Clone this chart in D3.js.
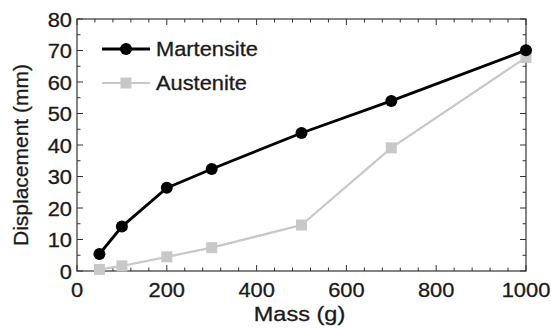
<!DOCTYPE html>
<html>
<head>
<meta charset="utf-8">
<script src="https://cdn.jsdelivr.net/npm/d3@7"></script>
<style>
  body { margin: 0; background: #fff; }
  text { font-family: "Liberation Sans", Arial, sans-serif; fill: #1a1a1a; stroke: #1a1a1a; stroke-width: 0.3; }
</style>
</head>
<body>
<div id="chart"></div>
<script>
// Sample data
const mass = [50, 100, 200, 300, 500, 700, 1000];
const martensite = [5.4, 14.1, 26.4, 32.4, 43.8, 54, 70.1];
const austenite = [0.5, 1.6, 4.5, 7.4, 14.6, 39.1, 67.8];
const xTicks = [0, 200, 400, 600, 800, 1000];
const yTicks = [0, 10, 20, 30, 40, 50, 60, 70, 80];

const width = 551, height = 328, margin = { top: 19, right: 25, bottom: 57, left: 77 };
const svg = d3.select('#chart')
  .append('svg')
  .attr('width', width)
  .attr('height', height);

const x = d3.scaleLinear().domain([0, 1000]).range([margin.left, width - margin.right]);
const y = d3.scaleLinear().domain([0, 80]).range([height - margin.bottom, margin.top]);

// the source figure's text is a bit wide, so stretch horizontally
const stretch = 1.12;
function label(g, tx, ty, str, size, anchor) {
  return g.append('text')
    .attr('transform', `translate(${tx},${ty}) scale(${stretch},1)`)
    .attr('text-anchor', anchor || 'start')
    .attr('font-size', size)
    .text(str);
}

const axisColor = '#333';
// minor/major ticks on all four sides, pointing inward
const xMinor = d3.range(0, 1001, 40);
const yMinor = d3.range(0, 81, 5);
const frame = svg.append('g');
frame.selectAll('.xt').data(xMinor).enter().append('line')
  .attr('x1', d => x(d)).attr('x2', d => x(d))
  .attr('y1', y(0)).attr('y2', d => y(0) - (d % 200 === 0 ? 6 : 3.5))
  .attr('stroke', axisColor);
frame.selectAll('.xtt').data(xMinor).enter().append('line')
  .attr('x1', d => x(d)).attr('x2', d => x(d))
  .attr('y1', y(80)).attr('y2', d => y(80) + (d % 200 === 0 ? 6 : 3.5))
  .attr('stroke', axisColor);
frame.selectAll('.yt').data(yMinor).enter().append('line')
  .attr('y1', d => y(d)).attr('y2', d => y(d))
  .attr('x1', x(0)).attr('x2', d => x(0) + (d % 10 === 0 ? 6 : 3.5))
  .attr('stroke', axisColor);
frame.selectAll('.ytr').data(yMinor).enter().append('line')
  .attr('y1', d => y(d)).attr('y2', d => y(d))
  .attr('x1', x(1000)).attr('x2', d => x(1000) - (d % 10 === 0 ? 6 : 3.5))
  .attr('stroke', axisColor);
frame.append('rect')
  .attr('x', x(0)).attr('y', y(80))
  .attr('width', x(1000) - x(0)).attr('height', y(0) - y(80))
  .attr('fill', 'none').attr('stroke', axisColor).attr('stroke-width', 1.2);

// tick labels
xTicks.forEach(d => label(svg, x(d), y(0) + 26, d, 19.5, 'middle'));
yTicks.forEach(d => label(svg, x(0) - 5, y(d) + 7.5, d, 19.5, 'end'));

label(svg, (x(0) + x(1000)) / 2 - 2, 321, 'Mass (g)', 21, 'middle');
svg.append('text')
  .attr('transform', `translate(28,${(y(0) + y(80)) / 2 + 10}) rotate(-90)`)
  .attr('text-anchor', 'middle').attr('font-size', 21)
  .text('Displacement (mm)');

const line = d3.line().x(d => x(d[0])).y(d => y(d[1]));
const aData = mass.map((m, i) => [m, austenite[i]]);
const mData = mass.map((m, i) => [m, martensite[i]]);
const gray = '#c8c8c8';

svg.append('path').datum(aData).attr('d', line)
  .attr('fill', 'none').attr('stroke', gray).attr('stroke-width', 2.2);
svg.selectAll('.sq').data(aData).enter().append('rect')
  .attr('x', d => x(d[0]) - 5.5).attr('y', d => y(d[1]) - 5.5)
  .attr('width', 11).attr('height', 11).attr('fill', gray);

svg.append('path').datum(mData).attr('d', line)
  .attr('fill', 'none').attr('stroke', '#000').attr('stroke-width', 2.8);
svg.selectAll('.dot').data(mData).enter().append('circle')
  .attr('cx', d => x(d[0])).attr('cy', d => y(d[1]))
  .attr('r', 6).attr('fill', '#000');

// legend
const lg = svg.append('g');
lg.append('line').attr('x1', 102).attr('x2', 150).attr('y1', 49).attr('y2', 49)
  .attr('stroke', '#000').attr('stroke-width', 2.8);
lg.append('circle').attr('cx', 126).attr('cy', 49).attr('r', 6).attr('fill', '#000');
label(lg, 156, 56, 'Martensite', 19.5);
lg.append('line').attr('x1', 102).attr('x2', 150).attr('y1', 83).attr('y2', 83)
  .attr('stroke', gray).attr('stroke-width', 2.2);
lg.append('rect').attr('x', 120.5).attr('y', 77.5).attr('width', 11).attr('height', 11).attr('fill', gray);
label(lg, 156, 90, 'Austenite', 19.5);
</script>
</body>
</html>
